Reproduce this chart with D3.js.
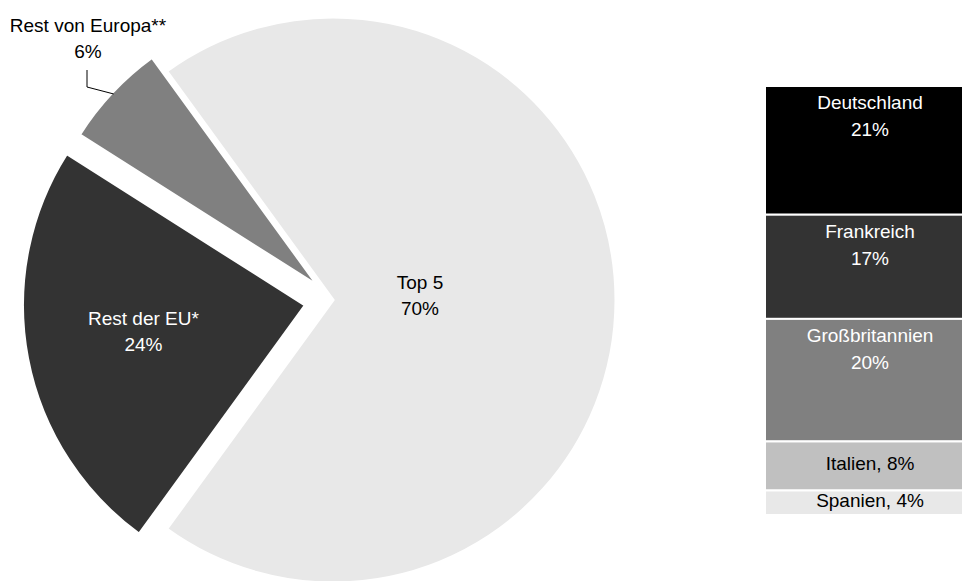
<!DOCTYPE html>
<html>
<head>
<meta charset="utf-8">
<script src="https://cdn.jsdelivr.net/npm/d3@7"></script>
<style>
  body { margin: 0; background: #fff; }
  text { font-family: "Liberation Sans", Arial, sans-serif; font-size: 19px; }
</style>
</head>
<body>
<script>
// pie: share of the market
var pieLabels = ["Top 5", "Rest der EU*", "Rest von Europa**"];
var pieValues = [70, 24, 6];
var pieColors = ["#e8e8e8", "#333333", "#808080"];
var pieText = ["#000", "#fff", "#000"];

// stacked bar: breakdown of the top 5
var barLabels = ["Deutschland", "Frankreich", "Großbritannien", "Italien", "Spanien"];
var barValues = [21, 17, 20, 8, 4];
var barColors = ["#000000", "#333333", "#808080", "#c0c0c0", "#e8e8e8"];
var barText = ["#fff", "#fff", "#fff", "#000", "#000"];

var width = 962;
var height = 581;
var cx = 333, cy = 300, radius = 283;
var explode = [0, 28, 20];
var labelRadius = [87, 165, null];

var svg = d3.select("body").append("svg")
    .attr("width", width)
    .attr("height", height);

var total = d3.sum(pieValues);
var start = Math.PI / 2 - Math.PI * pieValues[0] / total;

var pie = d3.pie()
    .sort(null)
    .startAngle(start)
    .endAngle(start + 2 * Math.PI);

var arcs = pie(pieValues);
var arc = d3.arc().innerRadius(0).outerRadius(radius);

function offset(a, i) {
    var mid = (a.startAngle + a.endAngle) / 2;
    return [cx + Math.sin(mid) * explode[i], cy - Math.cos(mid) * explode[i]];
}

var slices = svg.selectAll("g.slice")
    .data(arcs)
    .enter()
    .append("g")
    .attr("class", "slice")
    .attr("transform", (d, i) => "translate(" + offset(d, i) + ")");

slices.append("path")
    .attr("d", arc)
    .attr("fill", (d, i) => pieColors[i])
    .attr("stroke", "#fff")
    .attr("stroke-width", 3);

// labels inside the big slices
slices.filter((d, i) => labelRadius[i] !== null)
    .each(function(d) {
        var idx = arcs.indexOf(d);
        var lr = labelRadius[idx];
        var p = d3.arc().innerRadius(lr).outerRadius(lr).centroid(d);
        var t = d3.select(this).append("text")
            .attr("text-anchor", "middle")
            .attr("fill", pieText[idx]);
        t.append("tspan").attr("x", p[0]).attr("y", p[1] - 11).text(pieLabels[idx]);
        t.append("tspan").attr("x", p[0]).attr("y", p[1] + 15).text(pieValues[idx] + "%");
    });

// small slice gets an outside label with a leader line
var small = arcs[2];
var sOff = offset(small, 2);
var mid = (small.startAngle + small.endAngle) / 2;
var edge = [sOff[0] + Math.sin(mid) * (radius - 2), sOff[1] - Math.cos(mid) * (radius - 2)];
var lx = 88, ly = 58;

svg.append("polyline")
    .attr("points", [edge, [lx - 1, ly + 29], [lx - 1, ly + 12]].join(" "))
    .attr("fill", "none")
    .attr("stroke", "#000")
    .attr("stroke-width", 1);

var st = svg.append("text").attr("text-anchor", "middle").attr("fill", pieText[2]);
st.append("tspan").attr("x", lx).attr("y", ly - 26).text(pieLabels[2]);
st.append("tspan").attr("x", lx).attr("y", ly).text(pieValues[2] + "%");

// stacked bar
var barX = 765, barW = 210;
var ends = d3.cumsum(barValues);
var yScale = d3.scaleLinear()
    .domain([0, d3.sum(barValues)])
    .range([86, 515]);

var seg = svg.selectAll("g.seg")
    .data(barValues)
    .enter()
    .append("g")
    .attr("class", "seg");

seg.append("rect")
    .attr("x", barX)
    .attr("y", (d, i) => yScale(ends[i] - d))
    .attr("width", barW)
    .attr("height", d => yScale(d) - yScale(0))
    .attr("fill", (d, i) => barColors[i])
    .attr("stroke", "#fff")
    .attr("stroke-width", 2);

seg.each(function(d, i) {
    var top = yScale(ends[i] - d);
    var h = yScale(d) - yScale(0);
    var t = d3.select(this).append("text")
        .attr("text-anchor", "middle")
        .attr("fill", barText[i]);
    var x = barX + barW / 2;
    if (h > 60) {
        t.append("tspan").attr("x", x).attr("y", top + 23).text(barLabels[i]);
        t.append("tspan").attr("x", x).attr("y", top + 50).text(d + "%");
    } else {
        t.attr("x", x).attr("y", top + h / 2 + 4).text(barLabels[i] + ", " + d + "%");
    }
});
</script>
</body>
</html>
